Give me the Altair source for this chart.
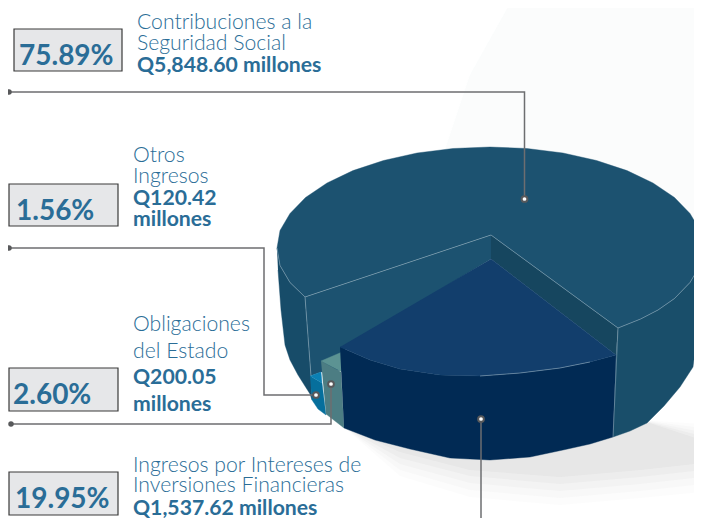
import altair as alt
import pandas as pd

# Outline readings (picture coordinates)
bg_x = [512, 470, 445, 470, 702, 702]
bg_y = [0, 75, 150, 150, 300, 0]

shadow_x = [345, 400, 470, 560, 640, 702, 702, 640, 560, 470, 400, 345]
shadow_a_y = [428, 476, 497, 505, 498, 492, 424, 420, 420, 420, 420, 428]
shadow_b_y = [428, 470, 490, 498, 491, 484, 428, 420, 420, 420, 420, 428]
shadow_c_y = [428, 464, 483, 491, 484, 477, 432, 420, 420, 420, 420, 428]
shadow_d_y = [428, 458, 476, 484, 477, 470, 436, 420, 420, 420, 420, 428]
shadow_e_y = [428, 452, 470, 477, 470, 463, 440, 420, 420, 420, 420, 428]

top_x = [491, 618, 640.6, 658, 674.5, 690, 700, 703, 700, 690, 674.5, 653, 627, 596.5, 563, 527, 490,
         453, 417, 383.5, 353, 327, 305.5, 290, 280, 277, 280, 290, 305]
top_y = [235, 328, 319, 310, 298.5, 282.5, 265.5, 248, 230.5, 213.5, 197.5, 183, 170.6, 160.5, 153, 148.5, 147,
         148.5, 153, 160.5, 170.6, 183, 197.5, 213.5, 230.5, 248, 265.5, 282.5, 297]

left_wall_x = [277, 280, 290, 305, 308, 311, 312, 310, 298, 290, 285, 281, 278]
left_wall_y = [248, 265.5, 282.5, 297, 335, 376, 400, 394, 375, 360, 345, 310, 270]

inner_left_x = [305, 491, 491, 345, 345, 321, 321, 310, 311]
inner_left_y = [297, 235, 259, 347, 370, 372, 372, 376, 376]

inner_right_x = [491, 618, 616, 491]
inner_right_y = [235, 328, 355, 259]

right_wall_x = [618, 640.6, 658, 674.5, 690, 700, 703, 702, 698, 693, 680, 664, 647, 630, 613, 616]
right_wall_y = [328, 319, 310, 298.5, 282.5, 265.5, 248, 265, 330, 367, 387, 406, 423, 431, 437, 355]

slice_top_x = [491, 616, 590, 560, 520, 480, 440, 400, 370, 340]
slice_top_y = [259, 355, 362, 368, 373, 376, 375, 369, 360, 347]

slice_front_x = [340, 370, 400, 440, 480, 520, 560, 590, 616, 613, 590, 563, 530, 490, 450, 410, 375, 344]
slice_front_y = [347, 360, 369, 375, 376, 373, 368, 362, 355, 437, 444, 450, 457, 460, 458, 449, 440, 428]

teal_top_x = [321, 342, 342]
teal_top_y = [361, 352, 372]
teal_front_x = [321, 341, 344, 326]
teal_front_y = [361, 372, 428, 414]

blue_top_x = [310, 321, 322]
blue_top_y = [376, 372, 383]
blue_front_x = [310, 322, 326, 318, 312]
blue_front_y = [376, 383, 415, 409, 400]

edge_a_x = [305, 491]
edge_a_y = [297, 235]
edge_b_x = [491, 618]
edge_b_y = [235, 328]
edge_c_x = [618, 640.6, 658, 674.5, 690, 700, 702]
edge_c_y = [328, 319, 310, 298.5, 282.5, 265.5, 262]
edge_d_x = [277, 280, 290, 305]
edge_d_y = [248, 265.5, 282.5, 297]
edge_e_x = [305, 311]
edge_e_y = [297, 376]
edge_f_x = [618, 613]
edge_f_y = [328, 437]
edge_g_x = [480, 520, 560, 590]
edge_g_y = [376, 373, 368, 362]

leader1_x = [9, 524.5, 524.5]
leader1_y = [92, 92, 199]
leader2_x = [9, 264, 264, 316]
leader2_y = [248, 248, 395, 395]
leader3_x = [11, 331, 331]
leader3_y = [424, 424, 384]
leader4_x = [481, 481]
leader4_y = [419, 518]

end_dots_x = [9, 9, 11]
end_dots_y = [92, 248, 424]
pie_dots_x = [524.5, 316, 331, 481]
pie_dots_y = [199, 395, 384, 419]

box_left = [14, 9, 9, 9]
box_right = [122, 118, 118, 118]
box_top = [29, 184, 368, 472]
box_bottom = [71, 226, 411, 515]

pct_labels = ["75.89%", "1.56%", "2.60%", "19.95%"]
pct_x = [19, 16, 13, 15]
pct_y = [65, 220, 404, 508]

name_labels = ["Contribuciones a la", "Seguridad Social", "Otros", "Ingresos", "Obligaciones", "del Estado",
               "Ingresos por Intereses de", "Inversiones Financieras"]
name_x = [137, 137, 133, 133, 133, 133, 133, 133]
name_y = [29, 50, 162, 183, 331, 358, 472, 492]

amount_labels = ["Q5,848.60 millones", "Q120.42", "millones", "Q200.05", "millones", "Q1,537.62 millones"]
amount_x = [137, 133, 133, 133, 133, 133]
amount_y = [71.5, 205, 226, 384, 411, 515]

X = alt.Scale(domain=[8, 694], range=[0, 686], nice=False, zero=False)
Y = alt.Scale(domain=[518, 8], nice=False, zero=False)
FONT = "Lato"
TEXT = "#2a6d97"


def path_df(xs, ys):
    return pd.DataFrame({"x": xs, "y": ys, "i": range(len(xs))})


def polygon(xs, ys, color, opacity=1.0):
    return alt.Chart(path_df(xs, ys)).mark_line(
        fill=color, stroke=color, strokeWidth=0.4, fillOpacity=opacity, strokeOpacity=0 if opacity < 1 else 1
    ).encode(
        x=alt.X("x:Q", scale=X, axis=None),
        y=alt.Y("y:Q", scale=Y, axis=None),
        order="i:Q",
    )


def path(xs, ys, color, width, opacity=1.0):
    return alt.Chart(path_df(xs, ys)).mark_line(color=color, strokeWidth=width, opacity=opacity).encode(
        x=alt.X("x:Q", scale=X, axis=None),
        y=alt.Y("y:Q", scale=Y, axis=None),
        order="i:Q",
    )


def labels(xs, ys, texts, size, weight):
    return alt.Chart(pd.DataFrame({"x": xs, "y": ys, "t": texts})).mark_text(
        align="left", baseline="alphabetic", font=FONT, fontSize=size, fontWeight=weight, color=TEXT
    ).encode(
        x=alt.X("x:Q", scale=X, axis=None),
        y=alt.Y("y:Q", scale=Y, axis=None),
        text="t:N",
    )


def dots(xs, ys, size, color):
    return alt.Chart(pd.DataFrame({"x": xs, "y": ys})).mark_point(
        filled=True, size=size, color=color, opacity=1
    ).encode(
        x=alt.X("x:Q", scale=X, axis=None),
        y=alt.Y("y:Q", scale=Y, axis=None),
    )


boxes = alt.Chart(pd.DataFrame({"x": box_left, "x2": box_right, "y": box_top, "y2": box_bottom})).mark_rect(
    fill="#e6e7e9", stroke="#3a3a3a", strokeWidth=1.2
).encode(
    x=alt.X("x:Q", scale=X, axis=None), x2="x2:Q",
    y=alt.Y("y:Q", scale=Y, axis=None), y2="y2:Q",
)

layers = [
    polygon(bg_x, bg_y, "#fbfcfc"),
    polygon(shadow_x, shadow_a_y, "#8a8d90", 0.025),
    polygon(shadow_x, shadow_b_y, "#8a8d90", 0.035),
    polygon(shadow_x, shadow_c_y, "#8a8d90", 0.045),
    polygon(shadow_x, shadow_d_y, "#8a8d90", 0.05),
    polygon(shadow_x, shadow_e_y, "#8a8d90", 0.06),
    polygon(right_wall_x, right_wall_y, "#194e6a"),
    polygon(left_wall_x, left_wall_y, "#174c69"),
    polygon(inner_left_x, inner_left_y, "#1c5270"),
    polygon(inner_right_x, inner_right_y, "#16465f"),
    polygon(top_x, top_y, "#1c5270"),
    polygon(blue_front_x, blue_front_y, "#066f9c"),
    polygon(blue_top_x, blue_top_y, "#0a80b4"),
    polygon(teal_front_x, teal_front_y, "#4c7d83"),
    polygon(teal_top_x, teal_top_y, "#5c9393"),
    polygon(slice_front_x, slice_front_y, "#012a54"),
    polygon(slice_top_x, slice_top_y, "#123e6c"),
]
for ex, ey in [(edge_a_x, edge_a_y), (edge_b_x, edge_b_y), (edge_c_x, edge_c_y), (edge_d_x, edge_d_y),
               (edge_e_x, edge_e_y), (edge_f_x, edge_f_y), (edge_g_x, edge_g_y)]:
    layers.append(path(ex, ey, "#a9c0cc", 0.6, 0.8))
for lx, ly in [(leader1_x, leader1_y), (leader2_x, leader2_y), (leader3_x, leader3_y), (leader4_x, leader4_y)]:
    layers.append(path(lx, ly, "#6d6e70", 1.5))
layers += [
    dots(end_dots_x, end_dots_y, 30, "#58595b"),
    dots(pie_dots_x, pie_dots_y, 60, "#58595b"),
    dots(pie_dots_x, pie_dots_y, 14, "#ffffff"),
    boxes,
    labels(pct_x, pct_y, pct_labels, 28, 700),
    labels(name_x, name_y, name_labels, 21.2, 300),
    labels(amount_x, amount_y, amount_labels, 21.2, 700),
]

chart = alt.layer(*layers).properties(
    width=686, height=510, padding=0,
    autosize=alt.AutoSizeParams(type="none"),
).configure_view(stroke=None)

chart.save("out.html", embed_options={"renderer": "svg", "actions": False})
